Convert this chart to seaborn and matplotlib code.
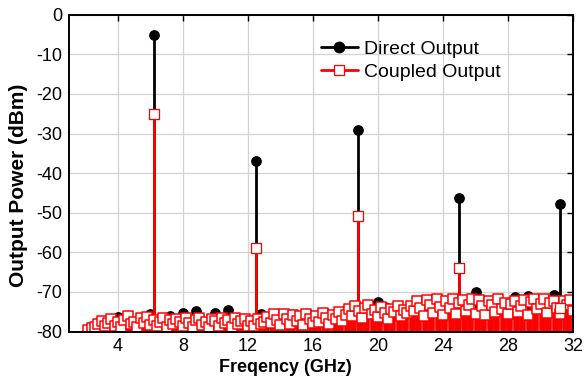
import matplotlib
matplotlib.use("Agg")
import matplotlib.pyplot as plt
import pandas as pd
import seaborn as sns
from matplotlib.lines import Line2D

# Harmonic peaks (GHz / dBm)
peak_freq = [6.25, 12.5, 18.75, 25.0, 31.2]
peak_direct = [-5.1, -36.9, -29.2, -46.2, -47.8]
peak_coupled = [-25.1, -58.9, -50.9, -64.0, -74.0]

# Noise floor, coupled output (0.2 GHz steps from 2.2 to 32.0 GHz)
noise_c_freq = [
    2.2, 2.4, 2.6, 2.8, 3.0, 3.2, 3.4, 3.6, 3.8, 4.0,
    4.2, 4.4, 4.6, 4.8, 5.0, 5.2, 5.4, 5.6, 5.8, 6.0,
    6.2, 6.4, 6.6, 6.8, 7.0, 7.2, 7.4, 7.6, 7.8, 8.0,
    8.2, 8.4, 8.6, 8.8, 9.0, 9.2, 9.4, 9.6, 9.8, 10.0,
    10.2, 10.4, 10.6, 10.8, 11.0, 11.2, 11.4, 11.6, 11.8, 12.0,
    12.2, 12.4, 12.6, 12.8, 13.0, 13.2, 13.4, 13.6, 13.8, 14.0,
    14.2, 14.4, 14.6, 14.8, 15.0, 15.2, 15.4, 15.6, 15.8, 16.0,
    16.2, 16.4, 16.6, 16.8, 17.0, 17.2, 17.4, 17.6, 17.8, 18.0,
    18.2, 18.4, 18.6, 18.8, 19.0, 19.2, 19.4, 19.6, 19.8, 20.0,
    20.2, 20.4, 20.6, 20.8, 21.0, 21.2, 21.4, 21.6, 21.8, 22.0,
    22.2, 22.4, 22.6, 22.8, 23.0, 23.2, 23.4, 23.6, 23.8, 24.0,
    24.2, 24.4, 24.6, 24.8, 25.0, 25.2, 25.4, 25.6, 25.8, 26.0,
    26.2, 26.4, 26.6, 26.8, 27.0, 27.2, 27.4, 27.6, 27.8, 28.0,
    28.2, 28.4, 28.6, 28.8, 29.0, 29.2, 29.4, 29.6, 29.8, 30.0,
    30.2, 30.4, 30.6, 30.8, 31.0, 31.2, 31.4, 31.6, 31.8, 32.0,
]
noise_c = [
    -79.7, -79.0, -78.9, -78.2, -77.4, -78.7, -77.9, -76.9, -78.5, -77.6,
    -78.8, -77.1, -76.2, -78.0, -77.5, -78.9, -76.7, -77.8, -76.3, -78.4,
    -77.0, -78.6, -77.7, -76.6, -78.9, -77.2, -78.1, -76.8, -77.5, -78.7,
    -76.6, -77.9, -78.8, -77.0, -76.5, -78.3, -77.6, -78.9, -76.9, -77.3,
    -78.5, -76.7, -77.8, -77.1, -78.9, -76.6, -78.0, -77.4, -76.8, -78.6,
    -77.3, -78.7, -76.9, -78.2, -77.6, -76.4, -77.9, -75.7, -77.0, -78.3,
    -75.6, -76.8, -78.1, -75.9, -77.3, -76.2, -78.4, -75.5, -76.9, -77.8,
    -76.1, -77.7, -75.4, -76.6, -78.0, -75.8, -76.9, -75.1, -77.4, -75.9,
    -74.3, -76.0, -73.6, -74.9, -76.7, -74.1, -73.3, -75.6, -74.5, -76.4,
    -73.8, -75.3, -76.8, -74.3, -75.0, -73.6, -76.1, -74.5, -75.4, -73.5,
    -74.9, -72.4, -74.0, -76.1, -72.1, -73.3, -75.4, -71.8, -73.7, -75.8,
    -72.3, -74.1, -71.7, -75.5, -72.9, -72.0, -74.8, -73.4, -71.9, -75.6,
    -72.1, -73.6, -75.9, -72.4, -73.2, -75.1, -71.8, -74.3, -72.7, -75.7,
    -73.1, -72.3, -75.2, -73.5, -72.0, -75.8, -72.6, -71.9, -74.4, -73.0,
    -71.7, -75.3, -72.9, -72.2, -74.1, -75.6, -72.4, -73.3, -72.1, -74.9,
]

# Noise floor, direct output (0.4 GHz steps from 2.4 to 32.0 GHz)
noise_d_freq = [
    2.4, 2.8, 3.2, 3.6, 4.0, 4.4, 4.8, 5.2, 5.6, 6.0,
    6.4, 6.8, 7.2, 7.6, 8.0, 8.4, 8.8, 9.2, 9.6, 10.0,
    10.4, 10.8, 11.2, 11.6, 12.0, 12.4, 12.8, 13.2, 13.6, 14.0,
    14.4, 14.8, 15.2, 15.6, 16.0, 16.4, 16.8, 17.2, 17.6, 18.0,
    18.4, 18.8, 19.2, 19.6, 20.0, 20.4, 20.8, 21.2, 21.6, 22.0,
    22.4, 22.8, 23.2, 23.6, 24.0, 24.4, 24.8, 25.2, 25.6, 26.0,
    26.4, 26.8, 27.2, 27.6, 28.0, 28.4, 28.8, 29.2, 29.6, 30.0,
    30.4, 30.8, 31.2, 31.6, 32.0,
]
noise_d = [
    -79.2, -77.8, -78.8, -78.4, -76.3, -78.0, -78.2, -78.5, -77.9, -75.6,
    -78.0, -78.3, -76.1, -77.6, -75.4, -77.2, -74.8, -77.5, -77.4, -75.4,
    -77.0, -74.6, -77.3, -77.8, -77.6, -77.0, -75.5, -77.6, -77.5, -77.8,
    -77.4, -77.7, -77.2, -77.6, -77.5, -77.3, -76.9, -77.1, -76.8, -76.6,
    -76.0, -75.6, -75.9, -73.6, -72.6, -73.8, -75.2, -75.9, -75.8, -75.2,
    -75.0, -74.6, -74.4, -74.8, -74.3, -74.5, -74.2, -74.0, -72.5, -69.9,
    -72.8, -73.8, -74.2, -74.0, -73.6, -71.4, -73.2, -71.1, -73.8, -73.5,
    -73.0, -70.9, -73.4, -73.8, -74.2,
]

x_ticks = [4, 8, 12, 16, 20, 24, 28, 32]
y_ticks = [0, -10, -20, -30, -40, -50, -60, -70, -80]

direct_noise = pd.DataFrame({"freq": noise_d_freq, "power": noise_d})
coupled_noise = pd.DataFrame({"freq": noise_c_freq, "power": noise_c})
peaks = pd.DataFrame({"freq": peak_freq, "direct": peak_direct,
                      "coupled": peak_coupled})

sns.set_theme(style="whitegrid")
plt.rcParams["font.family"] = ["Liberation Sans", "DejaVu Sans"]
plt.rcParams["axes.unicode_minus"] = False
plt.rcParams["text.color"] = "black"
plt.rcParams["axes.labelcolor"] = "black"

fig = plt.figure(figsize=(5.87, 3.88), dpi=100)
ax = fig.add_axes([0.1175, 0.1456, 0.8591, 0.8165])
ax.set_facecolor("white")
ax.set_axisbelow(True)

base = -80
red = "#ff0000"

# Direct output: black stems + filled circles
ax.vlines(direct_noise["freq"], base, direct_noise["power"], color="black", lw=2.0, zorder=2.0)
ax.vlines(peaks["freq"], base, peaks["direct"], color="black", lw=2.0, zorder=2.0)
sns.scatterplot(data=direct_noise, x="freq", y="power", marker="o", color="black",
                s=60, linewidth=0, ax=ax, zorder=2.1, legend=False)
sns.scatterplot(data=peaks, x="freq", y="direct", marker="o", color="black",
                s=60, linewidth=0, ax=ax, zorder=2.1, legend=False)

# Coupled output: red stems + open squares
ax.vlines(coupled_noise["freq"], base, coupled_noise["power"], color=red, lw=2.6, zorder=2.2)
ax.vlines(peaks["freq"], base, peaks["coupled"], color=red, lw=2.0, zorder=2.2)
sns.scatterplot(data=coupled_noise, x="freq", y="power", marker="s", facecolor="white",
                edgecolor=red, s=48, linewidth=1.1, ax=ax, zorder=2.3, legend=False)
sns.scatterplot(data=peaks, x="freq", y="coupled", marker="s", facecolor="white",
                edgecolor=red, s=45, linewidth=0.9, ax=ax, zorder=2.3, legend=False)

ax.set_xlim(1, 32)
ax.set_ylim(-80, 0)
ax.set_xticks(x_ticks)
ax.set_yticks(y_ticks)
ax.grid(True, color="#d3d3d3", lw=0.9)
ax.tick_params(direction="in", length=4, width=1, colors="black",
               top=True, right=True, labelsize=13, pad=5)
for s in ax.spines.values():
    s.set_color("black")
    s.set_linewidth(1.4)
    s.set_zorder(3)

ax.set_xlabel("Freqency (GHz)", fontsize=13, fontweight="bold")
ax.set_ylabel("Output Power (dBm)", fontsize=15, fontweight="bold")
ax.xaxis.set_label_coords(0.43, -0.088)
ax.yaxis.set_label_coords(-0.081, 0.462)

handles = [
    Line2D([], [], color="black", lw=2, marker="o", markersize=7.5),
    Line2D([], [], color=red, lw=2, marker="s", markersize=6.5,
           markerfacecolor="white", markeredgecolor=red, markeredgewidth=0.9),
]
ax.legend(handles, ["Direct Output", "Coupled Output"], loc="upper left",
          bbox_to_anchor=(0.465, 0.975), frameon=False, fontsize=14,
          handlelength=1.9, handletextpad=0.3, labelspacing=0.3)

fig.savefig("out.png", dpi=100)
